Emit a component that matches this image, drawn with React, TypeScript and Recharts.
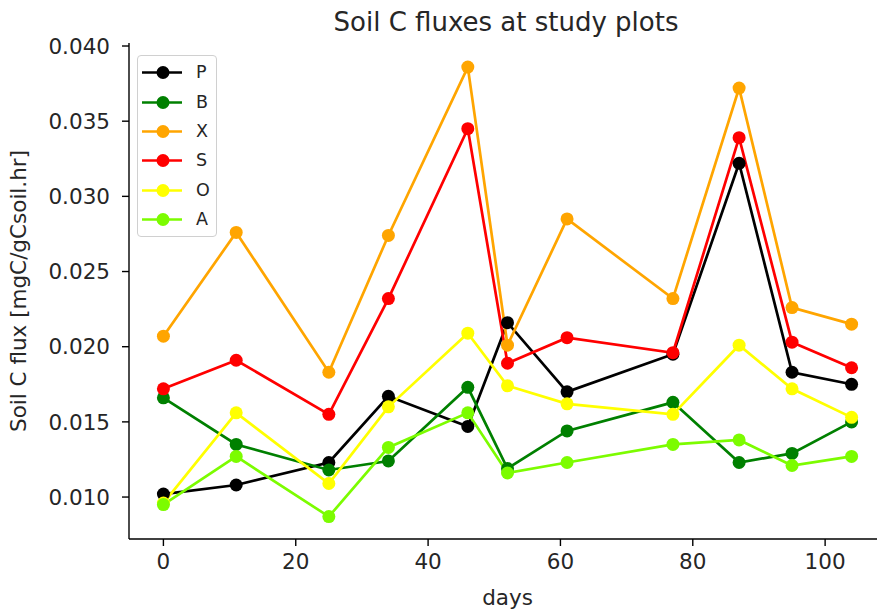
import React from "react";
import { LineChart, Line, XAxis, YAxis } from "recharts";

// Sampling days and soil C flux per plot (mgC/gCsoil.hr)
const days = [0, 11, 25, 34, 46, 52, 61, 77, 87, 95, 104];
const fluxP = [0.0102, 0.0108, 0.0123, 0.0167, 0.0147, 0.0216, 0.017, 0.0195, 0.0322, 0.0183, 0.0175];
const fluxB = [0.0166, 0.0135, 0.0118, 0.0124, 0.0173, 0.0119, 0.0144, 0.0163, 0.0123, 0.0129, 0.015];
const fluxX = [0.0207, 0.0276, 0.0183, 0.0274, 0.0386, 0.0201, 0.0285, 0.0232, 0.0372, 0.0226, 0.0215];
const fluxS = [0.0172, 0.0191, 0.0155, 0.0232, 0.0345, 0.0189, 0.0206, 0.0196, 0.0339, 0.0203, 0.0186];
const fluxO = [0.0096, 0.0156, 0.0109, 0.016, 0.0209, 0.0174, 0.0162, 0.0155, 0.0201, 0.0172, 0.0153];
const fluxA = [0.0095, 0.0127, 0.0087, 0.0133, 0.0156, 0.0116, 0.0123, 0.0135, 0.0138, 0.0121, 0.0127];

const plots = [
  { key: "P", color: "#000000", values: fluxP },
  { key: "B", color: "#008000", values: fluxB },
  { key: "X", color: "#FFA500", values: fluxX },
  { key: "S", color: "#FF0000", values: fluxS },
  { key: "O", color: "#FFFF00", values: fluxO },
  { key: "A", color: "#7CFC00", values: fluxA },
];

const xTicks = [0, 20, 40, 60, 80, 100];
const yTicks = [0.01, 0.015, 0.02, 0.025, 0.03, 0.035, 0.04];

const data = days.map((d, i) => {
  const row: Record<string, number> = { day: d };
  plots.forEach((p) => {
    row[p.key] = p.values[i];
  });
  return row;
});

const FONT = "'DejaVu Sans', sans-serif";
const TEXT = "#262626";
const AXIS_FS = 21.5;

// Legend panel in the upper-left corner of the axes
const LegendBox = () => (
  <div
    style={{
      position: "absolute",
      left: 137,
      top: 55,
      border: "1px solid #d0d0d0",
      borderRadius: 4,
      background: "rgba(255,255,255,0.85)",
      padding: "2px 0",
      width: 78,
      fontFamily: FONT,
    }}
  >
    {plots.map((p) => (
      <div key={p.key} style={{ display: "flex", alignItems: "center", height: 29.4 }}>
        <svg width={52} height={29} style={{ display: "block" }}>
          <line x1={4} x2={44} y1={14.5} y2={14.5} stroke={p.color} strokeWidth={2.7} />
          <circle cx={25} cy={14.5} r={6.5} fill={p.color} />
        </svg>
        <span style={{ fontSize: 17.5, color: TEXT, marginLeft: 6, lineHeight: "29px" }}>{p.key}</span>
      </div>
    ))}
  </div>
);

export default function App() {
  return (
    <div
      style={{
        position: "fixed",
        left: 0,
        top: 0,
        width: 877,
        height: 611,
        overflow: "hidden",
        background: "#ffffff",
      }}
    >
      <div
        style={{
          position: "absolute",
          left: 0,
          top: 6,
          width: 1012,
          textAlign: "center",
          fontFamily: FONT,
          fontSize: 26,
          color: TEXT,
          lineHeight: "32px",
        }}
      >
        Soil C fluxes at study plots
      </div>
      <LineChart
        width={900}
        height={611}
        data={data}
        margin={{ top: 43, right: 14, bottom: 0, left: 0 }}
        style={{ fontFamily: FONT }}
      >
        <XAxis
          xAxisId="top"
          orientation="top"
          dataKey="day"
          type="number"
          domain={[-5.2, 109.2]}
          allowDataOverflow
          tick={false}
          tickLine={false}
          height={0}
          axisLine={{ stroke: "#000", strokeWidth: 1.4 }}
        />
        <XAxis
          dataKey="day"
          type="number"
          domain={[-5.2, 109.2]}
          allowDataOverflow
          ticks={xTicks}
          height={72}
          tickSize={7}
          tickMargin={8}
          axisLine={{ stroke: "#000", strokeWidth: 1.4 }}
          tickLine={{ stroke: "#000", strokeWidth: 1.4 }}
          tick={{ fontSize: AXIS_FS, fill: TEXT, fontFamily: FONT }}
          label={{ value: "days", position: "insideBottom", offset: 6, fontSize: AXIS_FS, fill: TEXT, fontFamily: FONT }}
        />
        <YAxis
          type="number"
          domain={[0.00721, 0.0402]}
          allowDataOverflow
          ticks={yTicks}
          width={129}
          tickSize={7}
          tickMargin={12}
          tickFormatter={(v: number) => v.toFixed(3)}
          axisLine={{ stroke: "#000", strokeWidth: 1.4 }}
          tickLine={{ stroke: "#000", strokeWidth: 1.4 }}
          tick={{ fontSize: AXIS_FS, fill: TEXT, fontFamily: FONT }}
          label={{
            value: "Soil C flux [mgC/gCsoil.hr]",
            angle: -90,
            position: "insideLeft",
            offset: 18,
            style: { textAnchor: "middle", fontSize: AXIS_FS, fill: TEXT, fontFamily: FONT },
          }}
        />
        {plots.map((p) => (
          <Line
            key={p.key}
            dataKey={p.key}
            stroke={p.color}
            strokeWidth={2.7}
            dot={{ r: 6.5, fill: p.color, stroke: p.color, strokeWidth: 0 }}
            activeDot={false}
            isAnimationActive={false}
          />
        ))}
      </LineChart>
      <LegendBox />
    </div>
  );
}
